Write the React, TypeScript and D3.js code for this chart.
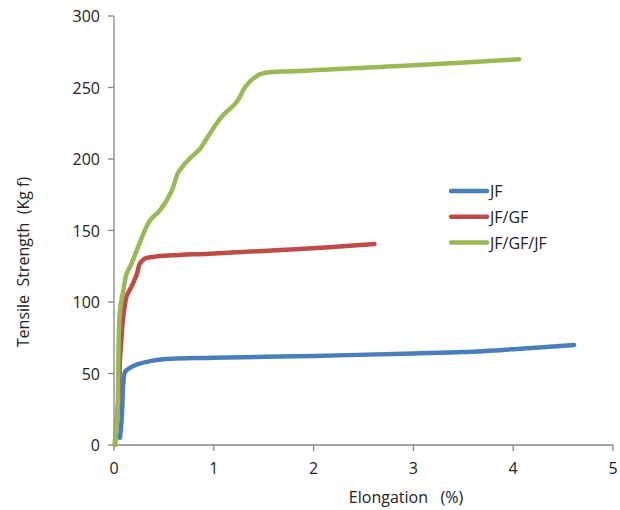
import React from "react";
import * as d3 from "d3";

const xTicks = [0, 1, 2, 3, 4, 5];
const yTicks = [0, 50, 100, 150, 200, 250, 300];

const seriesNames = ["JF", "JF/GF", "JF/GF/JF"];
const seriesColors = ["#4A7EBB", "#BE4B48", "#98B954"];

const jfX = [0.06, 0.07, 0.08, 0.093, 0.11, 0.16, 0.24, 0.35, 0.5, 1, 2, 3, 3.5, 4, 4.61];
const jfY = [5, 12, 22, 43, 51, 54, 56.5, 58.5, 60, 61, 62.3, 64, 65, 67, 70];

const jfgfX = [0.01, 0.02, 0.05, 0.06, 0.075, 0.093, 0.127, 0.177, 0.227, 0.26, 0.31, 0.41, 1, 1.86, 2.61];
const jfgfY = [0, 10, 38, 60, 75, 90, 104, 111, 119, 127, 130.5, 131.7, 134, 137, 140.5];

const jfgfjfX = [0.005, 0.02, 0.037, 0.045, 0.06, 0.093, 0.127, 0.177, 0.227, 0.36, 0.46, 0.58, 0.64, 0.74, 0.86, 0.94, 1.08, 1.23, 1.33, 1.46, 1.86, 3, 4.06];
const jfgfjfY = [0, 10, 27, 66, 94, 108, 120, 127, 136, 157, 164, 178, 190, 199, 207, 215.6, 229.6, 240, 251.7, 259.2, 261.5, 265.5, 269.7];

const seriesX = [jfX, jfgfX, jfgfjfX];
const seriesY = [jfY, jfgfY, jfgfjfY];

const W = 620;
const H = 510;
const left = 114;
const right = 613;
const top = 16;
const bottom = 445;

const font = "'Open Sans', 'Liberation Sans', sans-serif";
const axisColor = "#868686";
const fs = 16;

export default function App() {
  const x = d3.scaleLinear().domain([0, 5]).range([left, right]);
  const y = d3.scaleLinear().domain([0, 300]).range([bottom, top]);
  const line = d3
    .line<[number, number]>()
    .x((d) => x(d[0]))
    .y((d) => y(d[1]))
    .curve(d3.curveCatmullRom.alpha(0.5));

  return (
    <svg
      width={W}
      height={H}
      style={{ position: "absolute", left: 0, top: 0, background: "#fff" }}
      fontFamily={font}
    >
      <rect width={W} height={H} fill="#fff" />
      <line x1={left} x2={left} y1={top} y2={bottom} stroke={axisColor} strokeWidth={1.3} />
      <line x1={left} x2={right} y1={bottom} y2={bottom} stroke={axisColor} strokeWidth={1.3} />
      {yTicks.map((t) => (
        <g key={"y" + t}>
          <line x1={left - 6} x2={left} y1={y(t)} y2={y(t)} stroke={axisColor} strokeWidth={1.3} />
          <text x={left - 14} y={y(t) + 6} textAnchor="end" fontSize={fs} fill="#222">
            {t}
          </text>
        </g>
      ))}
      {xTicks.map((t) => (
        <g key={"x" + t}>
          <line x1={x(t)} x2={x(t)} y1={bottom} y2={bottom + 6} stroke={axisColor} strokeWidth={1.3} />
          <text x={x(t)} y={bottom + 28.5} textAnchor="middle" fontSize={fs} fill="#222">
            {t}
          </text>
        </g>
      ))}
      {seriesX.map((xs, i) => {
        const pts = xs.map((v, j) => [v, seriesY[i][j]] as [number, number]);
        return (
          <path
            key={seriesNames[i]}
            d={line(pts) || ""}
            fill="none"
            stroke={seriesColors[i]}
            strokeWidth={4.5}
            strokeLinecap="round"
            strokeLinejoin="round"
          />
        );
      })}
      <text x={406} y={503} textAnchor="middle" fontSize={fs} fill="#222" xmlSpace="preserve">
        Elongation   (%)
      </text>
      <text
        transform="translate(29,262) rotate(-90)"
        textAnchor="middle"
        fontSize={fs}
        fill="#222"
        xmlSpace="preserve"
      >
        Tensile  Strength  (Kg f)
      </text>
      {seriesNames.map((n, i) => {
        const ly = 191 + i * 25.8;
        return (
          <g key={"lg" + n}>
            <line x1={451} x2={487} y1={ly} y2={ly} stroke={seriesColors[i]} strokeWidth={4.5} strokeLinecap="round" />
            <text x={490} y={ly + 6} fontSize={fs} fill="#222">
              {n}
            </text>
          </g>
        );
      })}
    </svg>
  );
}
